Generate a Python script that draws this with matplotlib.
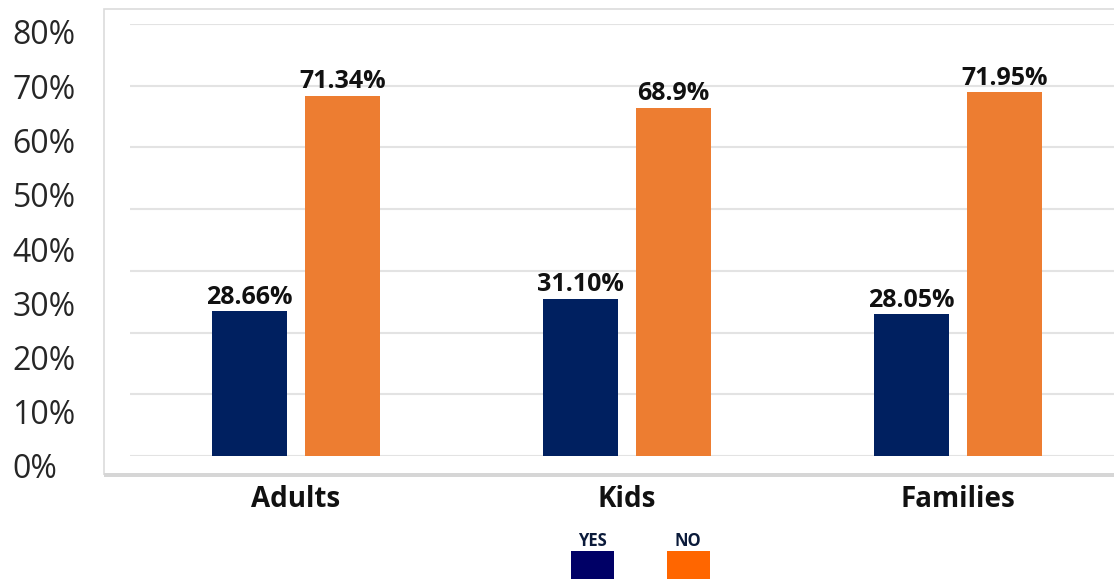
import numpy as np
import matplotlib
matplotlib.use("Agg")
import matplotlib.pyplot as plt
from matplotlib.patches import Rectangle

# data
groups = ["Adults", "Kids", "Families"]
yes_vals = [28.66, 31.10, 28.05]
no_vals = [71.34, 68.9, 71.95]
yes_labels = ["28.66%", "31.10%", "28.05%"]
no_labels = ["71.34%", "68.9%", "71.95%"]
axis_labels = ["0%", "10%", "20%", "30%", "40%", "50%", "60%", "70%", "80%"]
axis_ticks = [0, 10, 20, 30, 40, 50, 60, 70, 80]

plt.rcParams['font.family'] = ['Open Sans', 'DejaVu Sans']

W, H = 1114, 579
fig = plt.figure(figsize=(W / 100, H / 100), dpi=100)

def fx(px):
    return px / W

def fy(py):
    return 1 - py / H

# outer frame
fig.patches.append(Rectangle((fx(104), fy(475)), fx(1130 - 104), fy(9) - fy(475),
                             transform=fig.transFigure, fill=False,
                             edgecolor="#dcdcdc", lw=1.2, zorder=0))
fig.patches.append(Rectangle((fx(104), fy(477)), fx(1130 - 104), fy(473) - fy(477),
                             transform=fig.transFigure, facecolor="#d6d6d6",
                             edgecolor="none", zorder=0))

ax = fig.add_axes([fx(130), fy(456), fx(1114 - 130), fy(24) - fy(456)])
ax.patch.set_alpha(0)
ymax = 85.5
ax.set_ylim(0, ymax)
ax.set_xlim(-0.5015, 2.471)

x = np.arange(len(groups))
w = 0.227
off = 0.141
b1 = ax.bar(x - off, yes_vals, w, color="#002060", zorder=3)
b2 = ax.bar(x + off, no_vals, w, color="#ED7D31", zorder=3)

for bars, labs in ((b1, yes_labels), (b2, no_labels)):
    for rect, lab in zip(bars, labs):
        ax.annotate(lab, (rect.get_x() + rect.get_width() / 2, rect.get_height()),
                    xytext=(0, 1), textcoords="offset points", ha="center", va="bottom",
                    fontsize=18, fontweight="bold", color="#111111", zorder=4)

ax.set_yticks(np.linspace(0, ymax, 8))
ax.yaxis.grid(True, color="#e3e3e3", lw=1.5, zorder=0)
ax.tick_params(axis="y", left=False, labelleft=False)
ax.set_xticks(x)
ax.set_xticklabels(groups, fontsize=20, fontweight="bold", color="#111111")
ax.tick_params(axis="x", length=0, pad=21)
for s in ax.spines.values():
    s.set_visible(False)

# percentage scale on the left
lax = fig.add_axes([fx(12), fy(466), 0.0005, fy(32) - fy(466)])
lax.set_ylim(0, 80)
lax.set_yticks(axis_ticks)
lax.set_yticklabels(axis_labels, fontsize=23, color="#262626")
lax.yaxis.tick_right()
lax.tick_params(axis="y", length=0, pad=0)
lax.set_xticks([])
lax.patch.set_alpha(0)
for s in lax.spines.values():
    s.set_visible(False)

# legend
for name, col, px in (("YES", "#000066", 571), ("NO", "#FF6600", 667)):
    fig.patches.append(Rectangle((fx(px), fy(582)), fx(43), fy(551) - fy(582),
                                 transform=fig.transFigure, facecolor=col, edgecolor="none"))
    fig.text(fx(px + 21), fy(546), name, ha="center", va="baseline",
             fontsize=12, fontweight="bold", color="#0a1a3a")

fig.savefig("out.png", dpi=100)
